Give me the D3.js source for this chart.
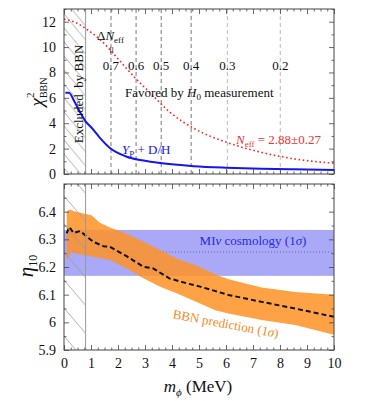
<!DOCTYPE html>
<html>
<head>
<meta charset="utf-8">
<script src="https://cdn.jsdelivr.net/npm/d3@7"></script>
<style>
  body { margin: 0; background: #fff; }
  svg text { font-family: "Liberation Serif", "DejaVu Serif", serif; }
</style>
</head>
<body>
<div id="chart"></div>
<script>
// chi^2 curves (top panel), m_phi in MeV
const chiYpDH = [[0.05,6.4],[0.18,6.4],[0.4,5.65],[0.6,4.85],[0.8,4.15],[1.0,3.7],[1.33,2.85],[1.7,2.05],[2.3,1.38],[2.94,1.06],[3.56,0.86],[4.8,0.62],[6.0,0.5],[7.3,0.42],[8.5,0.37],[10,0.32]];
const chiNeff = [[0,12.2],[0.47,11.9],[0.84,11.4],[1.33,10.6],[1.95,9.2],[2.32,8.3],[2.69,7.45],[3.19,6.4],[3.93,4.85],[4.85,3.55],[6.09,2.45],[7.32,1.7],[8.56,1.18],[10,0.85]];

// Delta N_eff markers
const dNeffLabels = ["0.7", "0.6", "0.5", "0.4", "0.3", "0.2"];
const dNeffMass = [1.74, 2.67, 3.6, 4.71, 6.05, 8.01];

// eta_10 (bottom panel)
const bbnUpper = [[0.1,6.40],[0.2,6.408],[0.35,6.402],[0.72,6.393],[1.02,6.387],[1.33,6.36],[1.7,6.343],[2.3,6.321],[2.94,6.291],[3.56,6.261],[4.17,6.231],[4.85,6.207],[5.6,6.174],[6.09,6.156],[7.32,6.126],[8.56,6.11],[10,6.10]];
const bbnLower = [[0.1,6.225],[0.18,6.235],[0.28,6.258],[0.45,6.248],[0.72,6.243],[1.09,6.237],[1.7,6.225],[2.32,6.195],[2.94,6.159],[3.56,6.129],[4.17,6.105],[4.85,6.076],[5.6,6.044],[6.09,6.032],[7.32,6.008],[8.56,5.99],[10,5.955]];
const bbnCentral = [[0.1,6.322],[0.2,6.345],[0.35,6.323],[0.6,6.33],[0.85,6.309],[1.09,6.291],[1.46,6.275],[1.7,6.273],[2.32,6.239],[2.94,6.201],[3.3,6.195],[3.9,6.159],[4.54,6.141],[5.04,6.129],[6.09,6.099],[7.32,6.074],[8.56,6.05],[10,6.02]];
const mivBand = [6.168, 6.334];
const mivCentral = 6.254;

const excludedMax = 0.8;

const xTicks = d3.range(0, 11, 1);
const topYTicks = [0, 2, 4, 6, 8, 10, 12];
const botYTicks = [5.9, 6.0, 6.1, 6.2, 6.3, 6.4];

const W = 366, H = 401;
const svg = d3.select("#chart").append("svg")
  .attr("width", W).attr("height", H);

const x = d3.scaleLinear().domain([0, 10]).range([64, 334]);
const yTop = d3.scaleLinear().domain([0, 13]).range([174, 9]);
const yBot = d3.scaleLinear().domain([5.9, 6.5]).range([350, 184]);

const frameColor = "#444";

// hatch patterns
const defs = svg.append("defs");
function hatch(id, d, slope) {
  const w = d / slope;
  const p = defs.append("pattern").attr("id", id)
    .attr("patternUnits", "userSpaceOnUse")
    .attr("x", 64).attr("y", 0)
    .attr("width", w).attr("height", d);
  [[0, 0, w, d], [-w, 0, 0, d], [w, 0, 2 * w, d], [0, -d, w, 0], [0, d, w, 2 * d]].forEach(l => {
    p.append("line").attr("x1", l[0]).attr("y1", l[1]).attr("x2", l[2]).attr("y2", l[3])
      .attr("stroke", "#9a9a9a").attr("stroke-width", 0.8);
  });
}
hatch("hatchTop", 14, 1.2);
hatch("hatchBot", 28, 1.18);

function panelClip(id, yScale) {
  defs.append("clipPath").attr("id", id).append("rect")
    .attr("x", x(0)).attr("y", yScale.range()[1])
    .attr("width", x(10) - x(0)).attr("height", yScale.range()[0] - yScale.range()[1]);
}
panelClip("clipTop", yTop);
panelClip("clipBot", yBot);

function excluded(yScale, pat) {
  svg.append("rect")
    .attr("x", x(0)).attr("y", yScale.range()[1])
    .attr("width", x(excludedMax) - x(0))
    .attr("height", yScale.range()[0] - yScale.range()[1])
    .attr("fill", `url(#${pat})`);
  svg.append("line")
    .attr("x1", x(excludedMax)).attr("x2", x(excludedMax))
    .attr("y1", yScale.range()[1]).attr("y2", yScale.range()[0])
    .attr("stroke", "#999").attr("stroke-width", 1);
}

function frameAxes(yScale, yMajor, yMinorStep, yFmt, xLabels) {
  const g = svg.append("g").attr("font-size", 14);
  const yTop0 = yScale.range()[1], yBot0 = yScale.range()[0];
  const xMinor = d3.range(0, 10.001, 0.25).filter(v => Math.abs(v - Math.round(v)) > 1e-6);
  const [y0, y1] = yScale.domain();
  const yMinor = d3.range(y0, y1 + 1e-6, yMinorStep).filter(v => !yMajor.some(m => Math.abs(m - v) < 1e-6));

  const axes = [
    [d3.axisBottom(x).tickValues(xTicks), `translate(0,${yBot0})`, xLabels],
    [d3.axisBottom(x).tickValues(xMinor), `translate(0,${yBot0})`, false, true],
    [d3.axisTop(x).tickValues(xTicks), `translate(0,${yTop0})`, false],
    [d3.axisTop(x).tickValues(xMinor), `translate(0,${yTop0})`, false, true],
    [d3.axisLeft(yScale).tickValues(yMajor), `translate(${x(0)},0)`, true],
    [d3.axisLeft(yScale).tickValues(yMinor), `translate(${x(0)},0)`, false, true],
    [d3.axisRight(yScale).tickValues(yMajor), `translate(${x(10)},0)`, false],
    [d3.axisRight(yScale).tickValues(yMinor), `translate(${x(10)},0)`, false, true]
  ];
  axes.forEach(([ax, tr, labels, minor], i) => {
    ax.tickSize(minor ? -2.5 : -5).tickPadding(minor ? 0 : 8);
    if (!labels) ax.tickFormat("");
    else if (i === 4) ax.tickFormat(yFmt);
    else ax.tickFormat(d3.format("d"));
    const a = g.append("g").attr("transform", tr).call(ax);
    a.select(".domain").remove();
    a.selectAll(".tick line").attr("stroke", frameColor).attr("stroke-width", 0.8);
    a.selectAll(".tick text").attr("fill", "#111").attr("font-size", 14)
      .attr("font-family", "Liberation Serif, serif");
  });
  g.append("rect")
    .attr("x", x(0)).attr("y", yTop0)
    .attr("width", x(10) - x(0)).attr("height", yBot0 - yTop0)
    .attr("fill", "none").attr("stroke", frameColor).attr("stroke-width", 1);
}

// ---------- Top panel ----------
excluded(yTop, "hatchTop");

const topPanel = svg.append("g").attr("clip-path", "url(#clipTop)");

topPanel.selectAll(".dneff")
  .data(dNeffMass)
  .enter().append("line")
  .attr("x1", d => x(d)).attr("x2", d => x(d))
  .attr("y1", yTop.range()[1]).attr("y2", yTop.range()[0])
  .attr("stroke", (d, i) => i < 4 ? "#777" : "#bbb")
  .attr("stroke-width", 1)
  .attr("stroke-dasharray", "4,3");

const lineTop = d3.line().curve(d3.curveMonotoneX)
  .x(d => x(d[0])).y(d => yTop(d[1]));

topPanel.append("path").attr("d", lineTop(chiNeff))
  .attr("fill", "none").attr("stroke", "#f22").attr("stroke-width", 1.6)
  .attr("stroke-dasharray", "1.6,2.6");

topPanel.append("path").attr("d", lineTop(chiYpDH))
  .attr("fill", "none").attr("stroke", "#1515ee").attr("stroke-width", 2);

frameAxes(yTop, topYTicks, 1, d3.format("d"), false);

// labels top
svg.selectAll(".dneffLab")
  .data(dNeffMass)
  .enter().append("text")
  .attr("x", d => x(d)).attr("y", 70)
  .attr("text-anchor", "middle").attr("font-size", 13).attr("fill", "#111")
  .text((d, i) => dNeffLabels[i]);

const dn = svg.append("text").attr("x", 97).attr("y", 40).attr("font-size", 13).attr("fill", "#111");
dn.append("tspan").text("Δ");
dn.append("tspan").attr("font-style", "italic").text("N");
dn.append("tspan").attr("font-size", 9).attr("dy", 3).text("eff");

svg.append("text").attr("transform", `translate(${x(dNeffMass[0])},50) rotate(90)`)
  .attr("text-anchor", "middle").attr("dy", 4).attr("font-size", 13).attr("fill", "#111").text("=");

const fav = svg.append("text").attr("x", 125).attr("y", 97).attr("font-size", 13).attr("fill", "#111");
fav.append("tspan").text("Favored by ");
fav.append("tspan").attr("font-style", "italic").text("H");
fav.append("tspan").attr("font-size", 9).attr("dy", 3).text("0");
fav.append("tspan").attr("dy", -3).text(" measurement");

const ne = svg.append("text").attr("x", 236).attr("y", 144).attr("font-size", 13).attr("fill", "#ee3333");
ne.append("tspan").attr("font-style", "italic").text("N");
ne.append("tspan").attr("font-size", 9).attr("dy", 3).text("eff");
ne.append("tspan").attr("dy", -3).text(" = 2.88±0.27");

const yp = svg.append("text").attr("x", 122).attr("y", 154).attr("font-size", 13).attr("fill", "#1515ee");
yp.append("tspan").attr("font-style", "italic").text("Y");
yp.append("tspan").attr("font-size", 9).attr("dy", 3).text("P");
yp.append("tspan").attr("dy", -3).text(" + D/H");

svg.append("text").attr("transform", "translate(83,94) rotate(-90)")
  .attr("text-anchor", "middle").attr("font-size", 13).attr("fill", "#111")
  .attr("xml:space", "preserve").text("Excluded  by BBN");

const chi = svg.append("text").attr("transform", "translate(43,92) rotate(-90)")
  .attr("text-anchor", "middle").attr("fill", "#111").attr("font-size", 19);
chi.append("tspan").attr("font-style", "italic").text("χ");
chi.append("tspan").attr("font-size", 11).attr("dy", -9).text("2");
chi.append("tspan").attr("font-size", 10).attr("dx", -5.5).attr("dy", 13).text("BBN");

// ---------- Bottom panel ----------
const botPanel = svg.append("g").attr("clip-path", "url(#clipBot)");

botPanel.append("rect")
  .attr("x", x(0)).attr("width", x(10) - x(0))
  .attr("y", yBot(mivBand[1])).attr("height", yBot(mivBand[0]) - yBot(mivBand[1]))
  .attr("fill", "#a9a9f8");

botPanel.append("line")
  .attr("x1", x(0)).attr("x2", x(10))
  .attr("y1", yBot(mivCentral)).attr("y2", yBot(mivCentral))
  .attr("stroke", "#6a6aa8").attr("stroke-width", 1).attr("stroke-dasharray", "1,2");

// orange band as closed polygon: upper edge then lower edge reversed
const bandPath = d3.line().x(d => x(d[0])).y(d => yBot(d[1]));
botPanel.append("path")
  .attr("d", bandPath(bbnUpper.concat(bbnLower.slice().reverse())) + "Z")
  .attr("fill", "#ff9226").attr("fill-opacity", 0.85);

excluded(yBot, "hatchBot");

botPanel.append("path")
  .attr("d", d3.line().x(d => x(d[0])).y(d => yBot(d[1]))(bbnCentral))
  .attr("fill", "none").attr("stroke", "#111").attr("stroke-width", 2)
  .attr("stroke-dasharray", "5,3");

frameAxes(yBot, botYTicks, 0.05, d => Math.abs(d - 6) < 1e-9 ? "6" : d3.format(".1f")(d), true);

const miv = svg.append("text").attr("x", 253).attr("y", 245).attr("text-anchor", "middle")
  .attr("font-size", 13).attr("fill", "#2a2ad8");
miv.append("tspan").text("MI");
miv.append("tspan").attr("font-style", "italic").text("ν");
miv.append("tspan").text(" cosmology (1");
miv.append("tspan").attr("font-style", "italic").text("σ");
miv.append("tspan").text(")");

const bp = svg.append("text").attr("transform", "translate(225,328) rotate(10.5)")
  .attr("text-anchor", "middle").attr("font-size", 13).attr("fill", "#f08a22");
bp.append("tspan").text("BBN prediction (1");
bp.append("tspan").attr("font-style", "italic").text("σ");
bp.append("tspan").text(")");

const eta = svg.append("text").attr("transform", "translate(33,266) rotate(-90)")
  .attr("text-anchor", "middle").attr("fill", "#111").attr("font-size", 21);
eta.append("tspan").attr("font-style", "italic").text("η");
eta.append("tspan").attr("font-size", 12).attr("dy", 4).text("10");

const xl = svg.append("text").attr("x", 198).attr("y", 392).attr("text-anchor", "middle")
  .attr("font-size", 17).attr("fill", "#111");
xl.append("tspan").attr("font-style", "italic").text("m");
xl.append("tspan").attr("font-style", "italic").attr("font-size", 11).attr("dy", 4).text("ϕ");
xl.append("tspan").attr("dy", -4).text(" (MeV)");
</script>
</body>
</html>
